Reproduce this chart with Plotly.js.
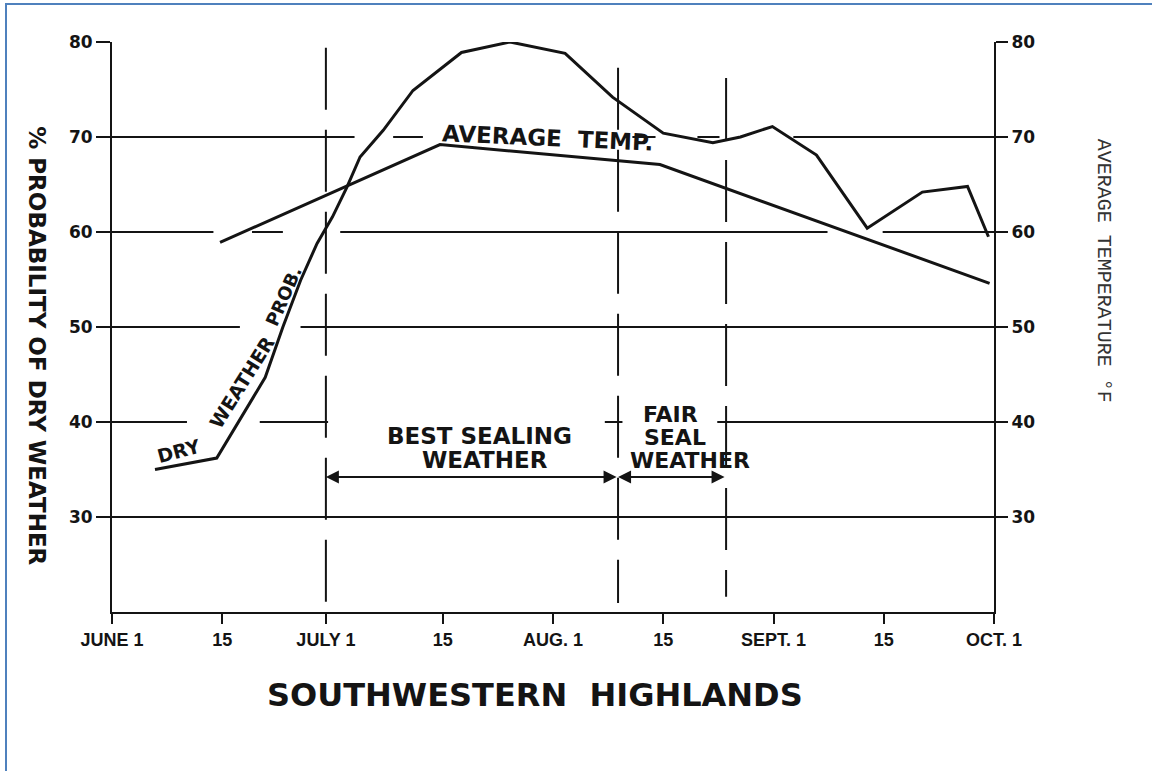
<!DOCTYPE html>
<html>
<head>
<meta charset="utf-8">
<script src="https://cdn.plot.ly/plotly-3.0.1.min.js"></script>
<style>
  html, body { margin:0; padding:0; background:#fff; }
  #wrap { position:relative; width:1152px; height:771px; overflow:hidden; }
  #chart { position:absolute; left:0; top:0; width:1152px; height:771px; }
  #frame { position:absolute; left:5px; top:3px; width:1200px; height:800px;
           border-left:2px solid #4F81BD; border-top:2px solid #4F81BD; pointer-events:none; }
</style>
</head>
<body>
<div id="wrap"><div id="chart"></div><div id="frame"></div></div>
<script>
// x positions are in half-month steps from June 1 (0) to Oct 1 (8)
const tickLabels = ['JUNE 1', '15', 'JULY 1', '15', 'AUG. 1', '15', 'SEPT. 1', '15', 'OCT. 1'];
const tickPos    = [0, 1, 1.94, 3, 4, 5, 6, 7, 8];

// % probability of dry weather (left axis)
const dryX = [0.39, 0.95, 1.39, 1.55, 1.71, 1.86, 2.00, 2.13, 2.25, 2.46, 2.73, 3.17, 3.61,
              4.11, 4.54, 5.00, 5.45, 5.70, 5.99, 6.39, 6.85, 7.35, 7.76, 7.95];
const dryY = [35.0, 36.2, 44.7, 50.0, 54.9, 58.8, 61.6, 64.7, 67.9, 70.7, 74.9, 78.9, 80.0,
              78.8, 74.2, 70.4, 69.4, 70.0, 71.1, 68.1, 60.4, 64.2, 64.8, 59.5];

// average temperature °F (right axis)
const tempX = [0.98, 2.975, 4.97, 7.96];
const tempY = [58.9, 69.2, 67.1, 54.6];

// season boundaries: start best sealing, start fair sealing, end fair sealing
const seasonBounds = [1.94, 4.59, 5.57];

const yTicks = [30, 40, 50, 60, 70, 80];

const INK = '#141414';
const boldSans = {family: 'DejaVu Sans', weight: 'bold', color: INK};
function bf(size) { return Object.assign({size: size}, boldSans); }

const traces = [
  {x: dryX, y: dryY, type: 'scatter', mode: 'lines', yaxis: 'y',
   line: {color: INK, width: 3}, cliponaxis: false, hoverinfo: 'skip'},
  {x: tempX, y: tempY, type: 'scatter', mode: 'lines', yaxis: 'y2',
   line: {color: INK, width: 3}, cliponaxis: false, hoverinfo: 'skip'}
];

// breaks in the hand-drawn grid lines (style only)
const gridGaps = [
  [70, 2.20, 2.55], [70, 2.82, 4.72], [70, 4.93, 5.31], [70, 5.51, 6.18],
  [60, 0.92, 1.27], [60, 1.55, 2.07], [60, 6.49, 6.99],
  [50, 1.16, 1.71],
  [40, 0.68, 1.34], [40, 1.96, 4.47], [40, 4.63, 5.49]
];
const shapes = gridGaps.map(g => ({
  type: 'rect', layer: 'between', xref: 'x', yref: 'y',
  x0: g[1], x1: g[2], y0: g[0] - 0.35, y1: g[0] + 0.35,
  fillcolor: '#ffffff', line: {width: 0}
}));
const vSpans = [[20.0, 79.4], [20.95, 77.3], [21.6, 76.2]];
seasonBounds.forEach((b, i) => {
  shapes.push({type: 'line', layer: 'above', xref: 'x', yref: 'y',
    x0: b, x1: b, y0: vSpans[i][1], y1: vSpans[i][0],
    line: {color: INK, width: 2, dash: '62px,20px'}});
});

const arrowY = 34.2;
const mid = {xanchor: 'center', yanchor: 'middle'};
const annotations = [
  {x: seasonBounds[0], y: arrowY, ax: seasonBounds[1], ay: arrowY, xref: 'x', yref: 'y', axref: 'x', ayref: 'y',
   text: '', showarrow: true, arrowhead: 2, arrowside: 'end+start', arrowsize: 1.3, arrowwidth: 2,
   arrowcolor: INK, standoff: 0, startstandoff: 0},
  {x: seasonBounds[1], y: arrowY, ax: seasonBounds[2], ay: arrowY, xref: 'x', yref: 'y', axref: 'x', ayref: 'y',
   text: '', showarrow: true, arrowhead: 2, arrowside: 'end+start', arrowsize: 1.3, arrowwidth: 2,
   arrowcolor: INK, standoff: 0, startstandoff: 0},
  Object.assign({x: 3.33, y: 38.52, xref: 'x', yref: 'y', text: 'BEST SEALING', showarrow: false, font: bf(23)}, mid),
  Object.assign({x: 3.38, y: 35.98, xref: 'x', yref: 'y', text: 'WEATHER', showarrow: false, font: bf(23)}, mid),
  Object.assign({x: 5.07, y: 40.75, xref: 'x', yref: 'y', text: 'FAIR', showarrow: false, font: bf(22)}, mid),
  Object.assign({x: 5.11, y: 38.4, xref: 'x', yref: 'y', text: 'SEAL', showarrow: false, font: bf(22)}, mid),
  Object.assign({x: 5.24, y: 36.0, xref: 'x', yref: 'y', text: 'WEATHER', showarrow: false, font: bf(22)}, mid),
  Object.assign({x: 3.955, y: 69.9, xref: 'x', yref: 'y', text: 'AVERAGE\u00A0\u00A0TEMP.', showarrow: false,
   textangle: 2.5, font: bf(23)}, mid),
  Object.assign({x: 0.60, y: 36.95, xref: 'x', yref: 'y', text: 'DRY', showarrow: false,
   textangle: -15, font: bf(19)}, mid),
  Object.assign({x: 1.18, y: 44.2, xref: 'x', yref: 'y', text: 'WEATHER', showarrow: false,
   textangle: -58, font: bf(19)}, mid),
  Object.assign({x: 1.56, y: 53.3, xref: 'x', yref: 'y', text: 'PROB.', showarrow: false,
   textangle: -66, font: bf(18)}, mid),
  Object.assign({x: -0.085, y: 0.468, xref: 'paper', yref: 'paper', text: '%\u00A0PROBABILITY\u00A0OF\u00A0DRY\u00A0WEATHER',
   showarrow: false, textangle: 90, font: bf(23)}, mid),
  Object.assign({x: 1.124, y: 0.598, xref: 'paper', yref: 'paper', text: 'AVERAGE\u00A0TEMPERATURE\u00A0°F',
   showarrow: false, textangle: 90, font: {family: 'Liberation Mono', size: 20, color: '#333'}}, mid),
  Object.assign({x: 0.48, y: -0.1456, xref: 'paper', yref: 'paper', text: 'SOUTHWESTERN\u00A0\u00A0HIGHLANDS',
   showarrow: false, font: bf(32)}, mid)
];

const axisLine = {showline: true, linecolor: INK, linewidth: 2, zeroline: false};

const layout = {
  width: 1152, height: 771,
  margin: {l: 112, r: 158, t: 42, b: 159, pad: 0},
  paper_bgcolor: '#ffffff', plot_bgcolor: '#ffffff',
  showlegend: false,
  xaxis: Object.assign({
    range: [0, 8], tickmode: 'array', tickvals: tickPos, ticktext: tickLabels,
    showgrid: false, ticks: 'outside', ticklen: 10, tickwidth: 2, tickcolor: INK,
    tickfont: {family: 'Liberation Sans', size: 18, weight: 'bold', color: INK}
  }, axisLine),
  yaxis: Object.assign({
    range: [20, 80], tickmode: 'array', tickvals: yTicks,
    showgrid: true, gridcolor: INK, gridwidth: 2,
    ticks: 'outside', ticklen: 14, tickwidth: 2, tickcolor: INK,
    tickfont: {family: 'DejaVu Sans', size: 17, weight: 'bold', color: INK}
  }, axisLine),
  yaxis2: Object.assign({
    range: [20, 80], tickmode: 'array', tickvals: yTicks, overlaying: 'y', side: 'right',
    showgrid: false, ticks: 'outside', ticklen: 12, tickwidth: 2, tickcolor: INK,
    tickfont: {family: 'DejaVu Sans', size: 17, weight: 'bold', color: INK}
  }, axisLine),
  shapes: shapes,
  annotations: annotations
};

Plotly.newPlot('chart', traces, layout, {staticPlot: true, displayModeBar: false});
</script>
</body>
</html>
